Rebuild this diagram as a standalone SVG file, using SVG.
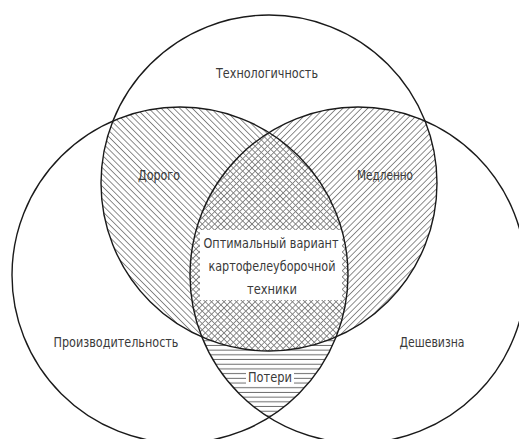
<svg xmlns="http://www.w3.org/2000/svg" width="519" height="439" viewBox="0 0 519 439">
  <style>
    .ring { fill: none; stroke: #1a1a1a; stroke-width: 1.4; }
    .lbl { font-family: "DejaVu Sans Condensed", "Liberation Sans Narrow", "DejaVu Sans", sans-serif; font-stretch: condensed; font-size: 14px; fill: #3a3a3a; text-anchor: middle; }
    .hl { stroke: #808080; stroke-width: 0.9; }
    .hh { stroke: #555; stroke-width: 0.9; }
  </style>
  <defs>
    <clipPath id="cTop"><circle cx="269" cy="183" r="168"/></clipPath>
    <clipPath id="cLeft"><circle cx="180" cy="275" r="168"/></clipPath>
    <clipPath id="cRight"><circle cx="358" cy="275" r="168"/></clipPath>
    <pattern id="hBack" width="4.4" height="4.4" patternUnits="userSpaceOnUse" patternTransform="rotate(-45)">
      <line class="hl" x1="2.2" y1="-1" x2="2.2" y2="5.4"/>
    </pattern>
    <pattern id="hFwd" width="4.4" height="4.4" patternUnits="userSpaceOnUse" patternTransform="rotate(45)">
      <line class="hl" x1="2.2" y1="-1" x2="2.2" y2="5.4"/>
    </pattern>
    <pattern id="hHor" width="10" height="4.7" patternUnits="userSpaceOnUse">
      <line class="hh" x1="-1" y1="2.3" x2="11" y2="2.3"/>
    </pattern>
    <mask id="mBottom">
      <rect x="0" y="0" width="519" height="439" fill="black"/>
      <g clip-path="url(#cLeft)"><circle cx="358" cy="275" r="168" fill="white"/></g>
      <circle cx="269" cy="183" r="168" fill="black"/>
    </mask>
  </defs>
  <rect x="0" y="0" width="519" height="439" fill="#ffffff"/>

  <g id="hatching">
    <g clip-path="url(#cTop)"><rect x="0" y="0" width="519" height="439" fill="url(#hBack)" clip-path="url(#cLeft)"/></g>
    <g clip-path="url(#cTop)"><rect x="0" y="0" width="519" height="439" fill="url(#hFwd)" clip-path="url(#cRight)"/></g>
    <rect x="0" y="0" width="519" height="439" fill="url(#hHor)" mask="url(#mBottom)"/>
    <rect x="200" y="230" width="142" height="70" fill="#ffffff"/>
    <rect x="246" y="370" width="48" height="16" fill="#ffffff"/>
  </g>

  <g id="node-tech">
    <circle class="ring" cx="269" cy="183" r="168"/>
    <text class="lbl" x="267" y="78" textLength="102" lengthAdjust="spacingAndGlyphs">Технологичность</text>
  </g>
  <g id="node-productivity">
    <circle class="ring" cx="180" cy="275" r="168"/>
    <text class="lbl" x="116" y="347" textLength="125" lengthAdjust="spacingAndGlyphs">Производительность</text>
  </g>
  <g id="node-cheap">
    <circle class="ring" cx="358" cy="275" r="168"/>
    <text class="lbl" x="432" y="347" textLength="65" lengthAdjust="spacingAndGlyphs">Дешевизна</text>
  </g>
  <g id="node-expensive">
    <text class="lbl" x="159" y="180" textLength="42" lengthAdjust="spacingAndGlyphs">Дорого</text>
  </g>
  <g id="node-slow">
    <text class="lbl" x="385" y="180" textLength="56" lengthAdjust="spacingAndGlyphs">Медленно</text>
  </g>
  <g id="node-optimal">
    <text class="lbl" x="271" y="248" textLength="135" lengthAdjust="spacingAndGlyphs">Оптимальный вариант</text>
    <text class="lbl" x="272" y="271" textLength="127" lengthAdjust="spacingAndGlyphs">картофелеуборочной</text>
    <text class="lbl" x="272" y="294" textLength="50" lengthAdjust="spacingAndGlyphs">техники</text>
  </g>
  <g id="node-losses">
    <text class="lbl" x="270" y="382" textLength="44" lengthAdjust="spacingAndGlyphs">Потери</text>
  </g>
  <g id="connectors"/>
</svg>
